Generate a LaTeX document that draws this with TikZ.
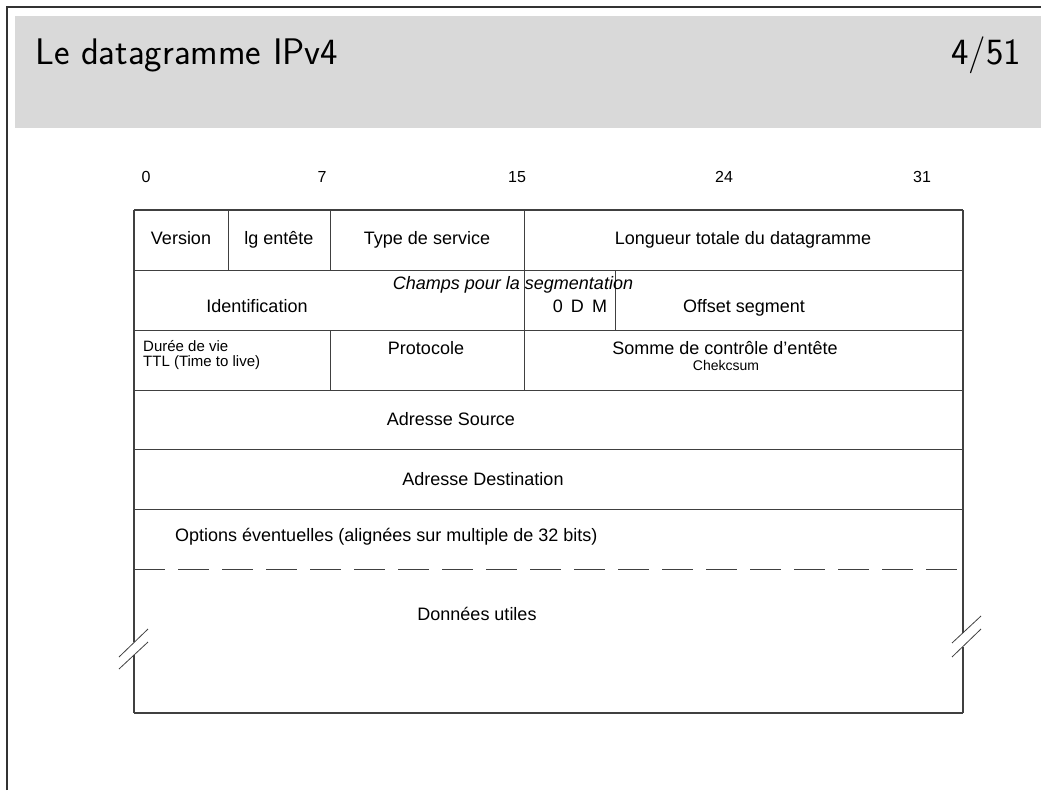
\documentclass[tikz,border=0pt]{standalone}
\usepackage{fontspec}
\setmainfont{Liberation Sans}
\definecolor{headgray}{gray}{0.85}
\definecolor{rulegray}{gray}{0.25}
\begin{document}
\begin{tikzpicture}[x=1pt,y=-1pt,
  txt/.style={inner sep=0pt, anchor=base, font=\fontsize{18}{21}\selectfont},
  small/.style={inner sep=0pt, anchor=base west, font=\fontsize{15}{17}\selectfont},
  bitnum/.style={inner sep=0pt, anchor=base, font=\fontsize{16}{18}\selectfont},
  heading/.style={inner sep=0pt, font=\fontsize{37}{44}\sffamily},
  border/.style={draw=rulegray, line width=1.3pt},
  cell/.style={draw=rulegray, line width=1pt},
  cut/.style={draw=rulegray, line width=0.8pt}]
\useasboundingbox (0,0) rectangle (1041,790);

% slide frame and title bar
\fill[headgray] (15,16) rectangle (1041,128);
\draw[black!80, line width=1.5pt] (7,790) -- (7,7) -- (1041,7);
\node[heading, anchor=base west] (title) at (35,64) {Le datagramme IPv4};
\node[heading, anchor=base east] (page) at (1021,64) {4/51};

% bit positions
\node[bitnum] (b0)  at (146,182) {0};
\node[bitnum] (b7)  at (322,182) {7};
\node[bitnum] (b15) at (517,182) {15};
\node[bitnum] (b24) at (724,182) {24};
\node[bitnum] (b31) at (922,182) {31};

% horizontal rules between the header words
\draw[border] (134,210) -- (963,210);
\draw[cell] (134,270) -- (963,270);
\draw[cell] (134,330) -- (963,330);
\draw[cell] (134,390) -- (963,390);
\draw[cell] (134,449) -- (963,449);
\draw[cell] (134,509) -- (963,509);
\draw[cell, dash pattern=on 31pt off 13pt] (134,569) -- (963,569);
\draw[border] (134,713) -- (963,713);

% outer sides, broken by the cut marks
\draw[border] (134,210) -- (134,642);
\draw[border] (134,655) -- (134,713);
\draw[border] (963,210) -- (963,633);
\draw[border] (963,647) -- (963,713);

% cut marks
\draw[cut] (119,657) -- (148,629);
\draw[cut] (119,669) -- (148,642);
\draw[cut] (952,643) -- (981,616);
\draw[cut] (952,657) -- (981,629);

% vertical field separators
\draw[cell] (228,210) -- (228,270);
\draw[cell] (330,210) -- (330,270);
\draw[cell] (524,210) -- (524,270);
\draw[cell] (524,270) -- (524,330);
\draw[cell] (615,270) -- (615,330);
\draw[cell] (330,330) -- (330,390);
\draw[cell] (524,330) -- (524,390);

% row 1
\node[txt] (ver) at (181,244) {Version};
\node[txt] (ihl) at (279,244) {lg entête};
\node[txt] (tos) at (427,244) {Type de service};
\node[txt] (len) at (743,244) {Longueur totale du datagramme};

% row 2
\node[txt, font=\fontsize{18}{21}\itshape] (seg) at (513,289) {Champs pour la segmentation};
\node[txt] (ident) at (257,312) {Identification};
\node[txt] (flags) at (580,312) {0\hspace{0.45em}D\hspace{0.45em}M};
\node[txt] (off) at (744,312) {Offset segment};

% row 3
\node[small] (ttl1) at (143,351) {Durée de vie};
\node[small] (ttl2) at (143,366) {TTL (Time to live)};
\node[txt] (proto) at (426,354) {Protocole};
\node[txt] (csum) at (725,354) {Somme de contrôle d’entête};
\node[txt, font=\fontsize{14}{16}\selectfont] (ck) at (726,370) {Chekcsum};

% addresses, options, payload
\node[txt] (src) at (451,425) {Adresse Source};
\node[txt] (dst) at (483,485) {Adresse Destination};
\node[txt, anchor=base west] (opt) at (175,541) {Options éventuelles (alignées sur multiple de 32 bits)};
\node[txt] (data) at (477,620) {Données utiles};
\end{tikzpicture}
\end{document}
